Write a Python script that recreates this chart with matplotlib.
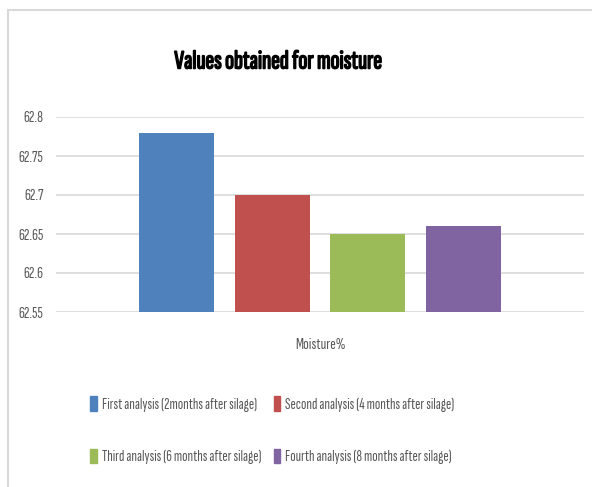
import matplotlib
matplotlib.use("Agg")
import matplotlib.pyplot as plt
import matplotlib.patheffects as pe
from matplotlib.lines import Line2D
from matplotlib.patches import Patch

plt.rcParams['font.family'] = ['Sofia Sans Extra Condensed', 'Fira Sans Extra Condensed', 'Liberation Sans', 'DejaVu Sans']

category = "Moisture%"
series = ["First analysis (2months after silage)",
          "Second analysis (4 months after silage)",
          "Third analysis (6 months after silage)",
          "Fourth analysis (8 months after silage)"]
values = [62.78, 62.70, 62.65, 62.66]
colors = ["#4f81bd", "#c0504d", "#9bbb59", "#8064a2"]
yticks = [62.55, 62.6, 62.65, 62.7, 62.75, 62.8]
ytick_labels = ["62.55", "62.6", "62.65", "62.7", "62.75", "62.8"]

W, H = 592, 487
fig = plt.figure(figsize=(W / 100, H / 100), dpi=100)

# cropped chart border (top and left only)
fig.add_artist(Line2D([8 / W, 8 / W], [0, 1 - 10 / H], color="#d9d9d9", lw=1.5))
fig.add_artist(Line2D([8 / W, 1], [1 - 10 / H, 1 - 10 / H], color="#d9d9d9", lw=1.5))

ax = fig.add_axes([56 / W, 1 - 312 / H, (584 - 56) / W, (312 - 117) / H])

width = 0.142
step = 0.181
for i, (s, v, c) in enumerate(zip(series, values, colors)):
    x = 0.5 + (i - 1.5) * step
    ax.bar(x, v - 62.55, width, bottom=62.55, color=c, label=s, zorder=2)

ax.set_xlim(0, 1)
ax.set_ylim(62.55, 62.8)
ax.set_yticks(yticks)
ax.set_yticklabels(ytick_labels)
ax.set_xticks([0.5])
ax.set_xticklabels([category])
ax.tick_params(length=0, colors="#595959", labelsize=12)
ax.tick_params(axis="x", pad=19)
ax.tick_params(axis="y", pad=9)
for sp in ax.spines.values():
    sp.set_visible(False)
ax.grid(axis="y", color="#d9d9d9", lw=1.2, zorder=0)

# fake bold with a thin stroke
fig.text(278 / W, 1 - 62 / H, "Values obtained for moisture", ha="center", va="center",
         fontsize=19, fontweight="bold", color="black",
         path_effects=[pe.withStroke(linewidth=1.1, foreground="black")])

# Excel fills the legend row by row
order = [0, 2, 1, 3]
handles = [Patch(color=colors[i]) for i in order]
labels = [series[i] for i in order]
fig.legend(handles, labels, loc="upper left", bbox_to_anchor=(76 / W, 1 - 382 / H),
           ncol=2, frameon=False, fontsize=11.5, handlelength=0.4, handleheight=1.0,
           handletextpad=0.3, columnspacing=0.8, labelspacing=2.3, labelcolor="#595959")

fig.savefig("out.png", dpi=100)
